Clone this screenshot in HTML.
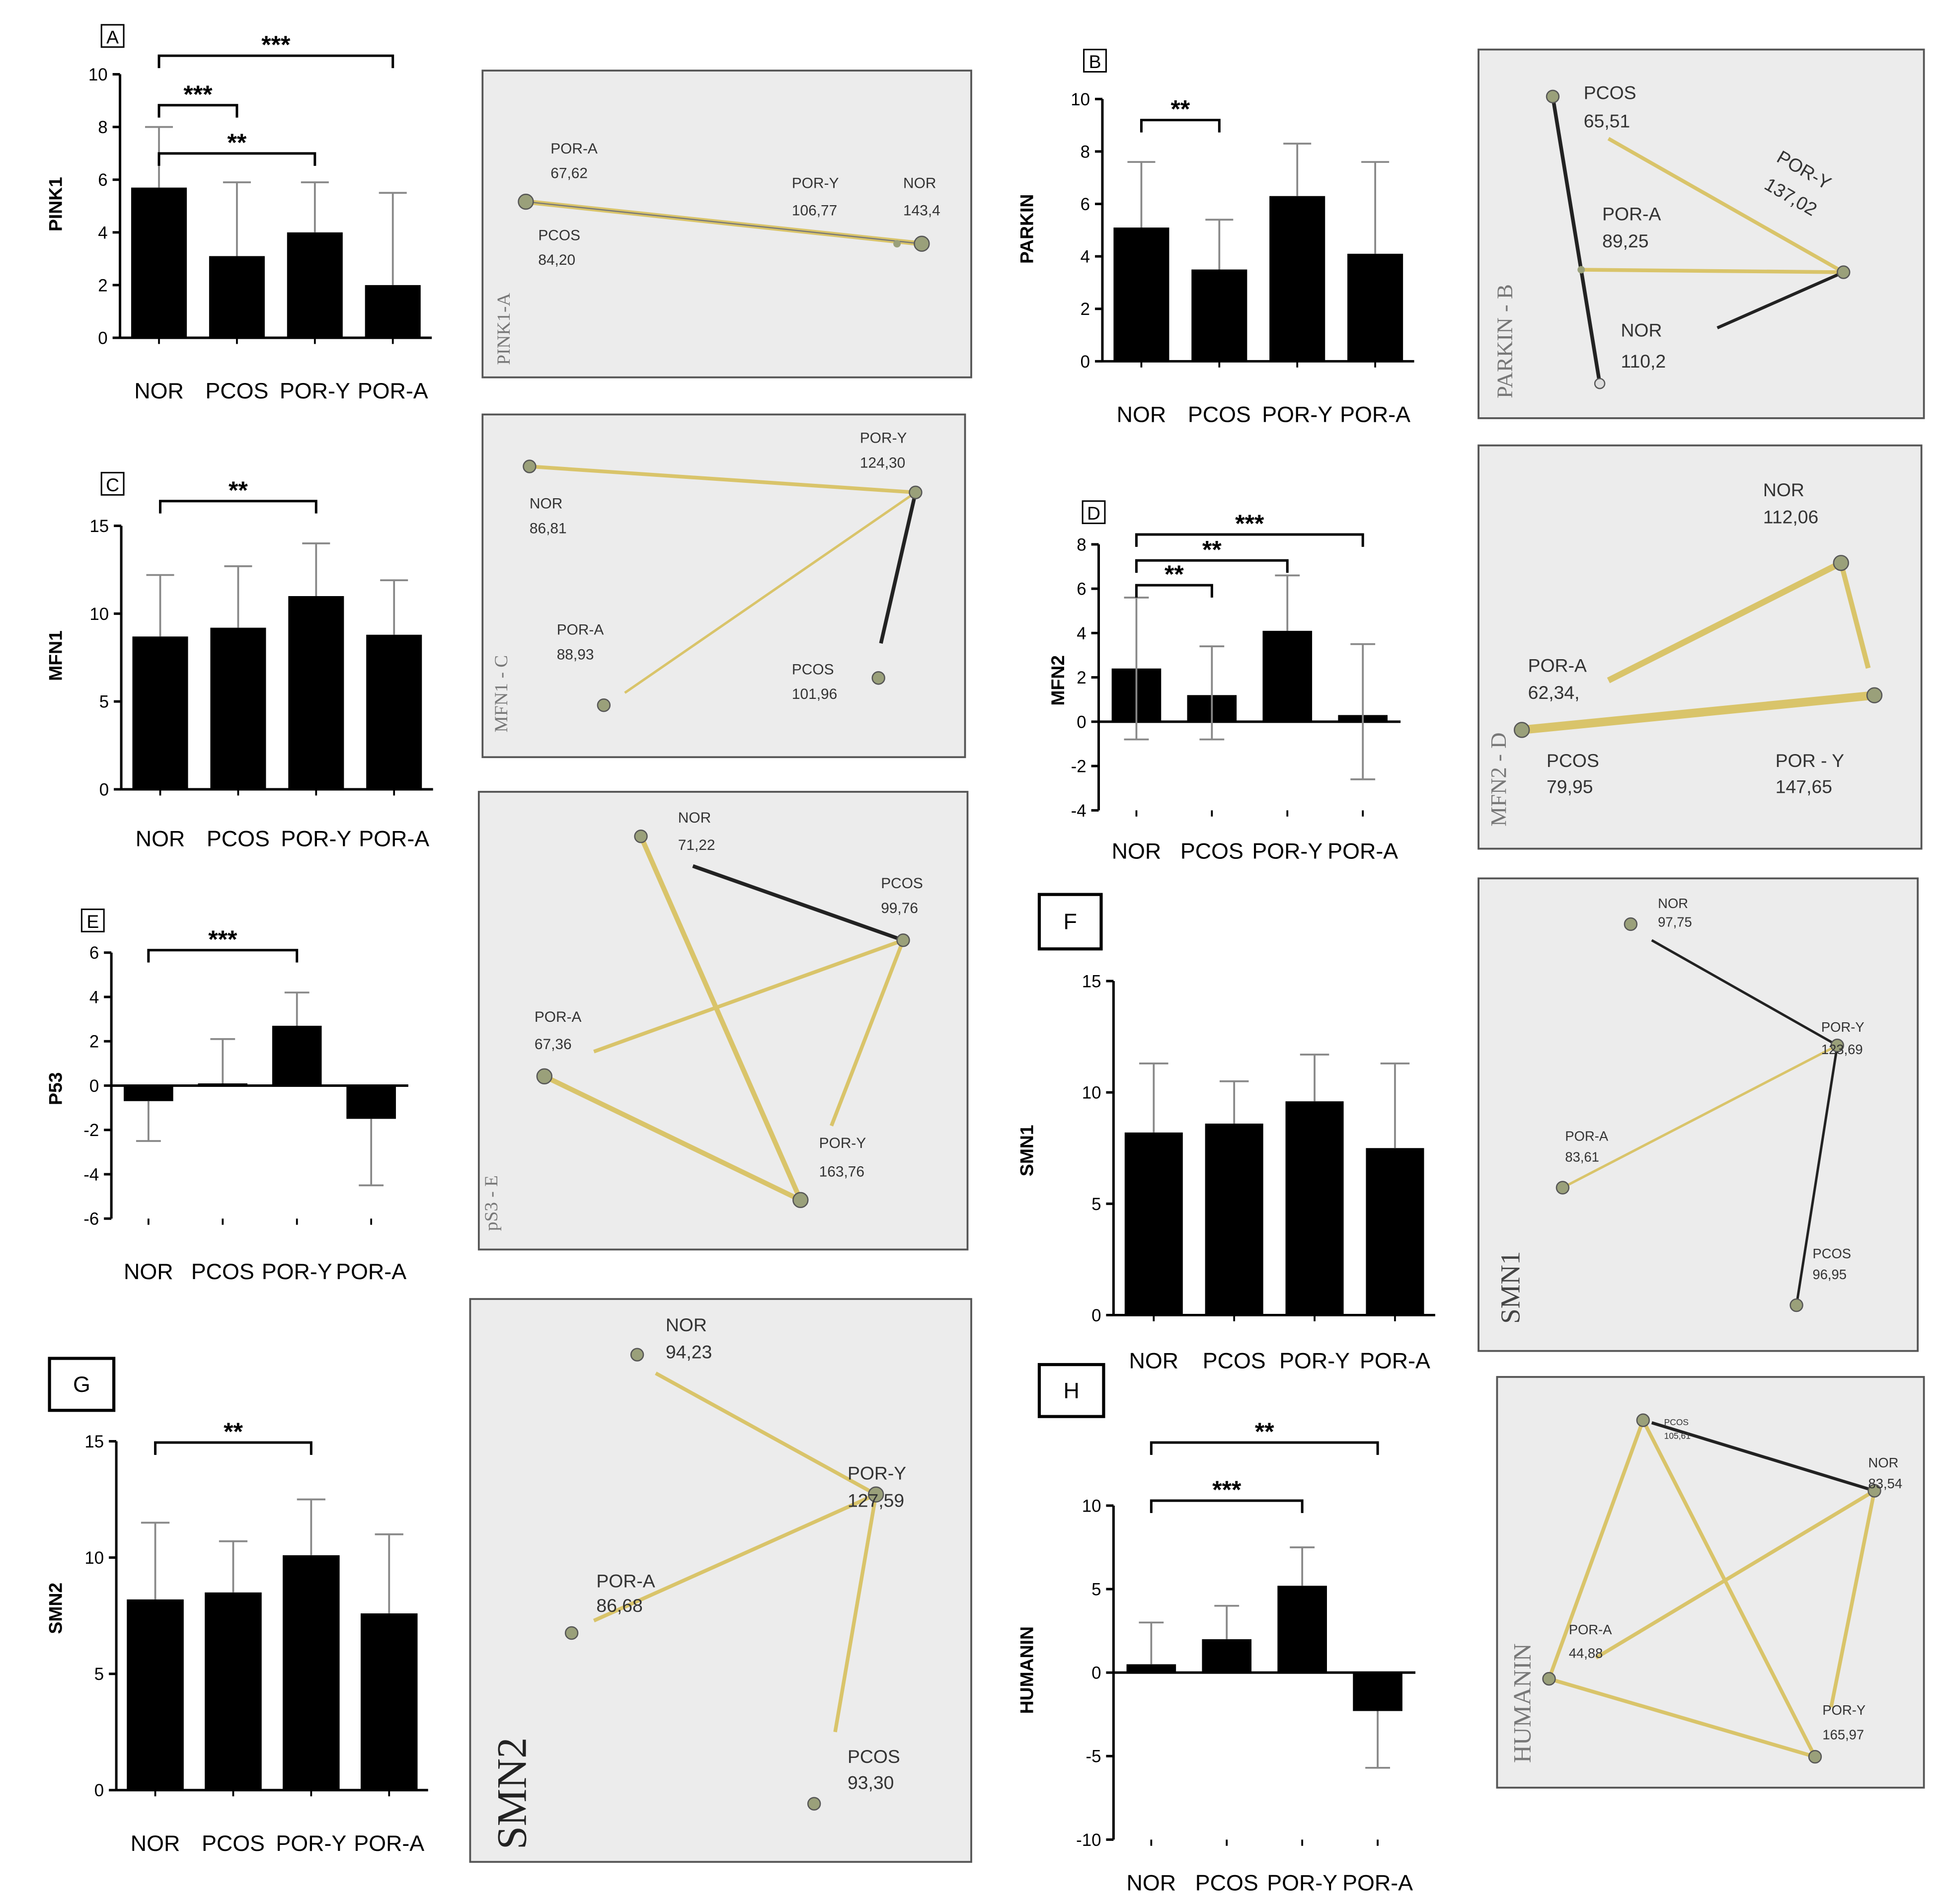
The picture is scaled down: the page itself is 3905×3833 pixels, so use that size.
<!DOCTYPE html>
<html><head><meta charset="utf-8"><style>
html,body{margin:0;padding:0;background:#fff}
svg{display:block}
text{font-family:"Liberation Sans",Arial,sans-serif}
</style></head><body>
<svg id="fig" width="3905" height="3833" viewBox="0 0 1568 1539" xmlns="http://www.w3.org/2000/svg">
<g id="nets">
<!-- Network A -->
<g>
<rect x="390" y="57" width="395" height="248" fill="#ececec" stroke="#555" stroke-width="1.5"/>
<line x1="425" y1="163" x2="745" y2="197" stroke="#d9c46a" stroke-width="4"/>
<line x1="425" y1="163" x2="745" y2="197" stroke="#777" stroke-width="1"/>
<circle cx="425" cy="163" r="6" fill="#9aa07a" stroke="#555"/><circle cx="745" cy="197" r="6" fill="#9aa07a" stroke="#555"/><circle cx="725" cy="197" r="3" fill="#9aa07a"/>
<g font-size="12" fill="#333"><text x="445" y="124">POR-A</text><text x="445" y="144">67,62</text><text x="435" y="194">PCOS</text><text x="435" y="214">84,20</text><text x="640" y="152">POR-Y</text><text x="640" y="174">106,77</text><text x="730" y="152">NOR</text><text x="730" y="174">143,4</text></g>
<text transform="translate(412,295) rotate(-90)" font-size="15" fill="#777" style="font-family:'Liberation Serif',serif">PINK1-A</text>
</g>
<!-- Network B -->
<g>
<rect x="1195" y="40" width="360" height="298" fill="#ececec" stroke="#555" stroke-width="1.5"/>
<line x1="1255" y1="78" x2="1293" y2="310" stroke="#222" stroke-width="3"/>
<line x1="1300" y1="112" x2="1490" y2="220" stroke="#d9c46a" stroke-width="3"/>
<line x1="1278" y1="218" x2="1490" y2="220" stroke="#d9c46a" stroke-width="3"/>
<line x1="1388" y1="265" x2="1490" y2="220" stroke="#222" stroke-width="2.5"/>
<circle cx="1255" cy="78" r="5" fill="#9aa07a" stroke="#555"/><circle cx="1490" cy="220" r="5" fill="#9aa07a" stroke="#555"/><circle cx="1278" cy="218" r="3" fill="#9aa07a"/><circle cx="1293" cy="310" r="4" fill="#ddd" stroke="#555"/>
<g font-size="15" fill="#333"><text x="1280" y="80">PCOS</text><text x="1280" y="103">65,51</text><text x="1295" y="178">POR-A</text><text x="1295" y="200">89,25</text><text x="1310" y="272">NOR</text><text x="1310" y="297">110,2</text></g>
<text transform="translate(1435,130) rotate(30)" font-size="15" fill="#333">POR-Y</text><text transform="translate(1425,152) rotate(30)" font-size="15" fill="#333">137,02</text>
<text transform="translate(1222,322) rotate(-90)" font-size="18" fill="#777" style="font-family:'Liberation Serif',serif">PARKIN - B</text>
</g>
<!-- Network C -->
<g>
<rect x="390" y="335" width="390" height="277" fill="#ececec" stroke="#555" stroke-width="1.5"/>
<line x1="428" y1="377" x2="740" y2="398" stroke="#d9c46a" stroke-width="3"/>
<line x1="505" y1="560" x2="740" y2="398" stroke="#d9c46a" stroke-width="2"/>
<line x1="740" y1="398" x2="712" y2="520" stroke="#222" stroke-width="3"/>
<circle cx="428" cy="377" r="5" fill="#9aa07a" stroke="#555"/><circle cx="740" cy="398" r="5" fill="#9aa07a" stroke="#555"/><circle cx="488" cy="570" r="5" fill="#9aa07a" stroke="#555"/><circle cx="710" cy="548" r="5" fill="#9aa07a" stroke="#555"/>
<g font-size="12" fill="#333"><text x="695" y="358">POR-Y</text><text x="695" y="378">124,30</text><text x="428" y="411">NOR</text><text x="428" y="431">86,81</text><text x="450" y="513">POR-A</text><text x="450" y="533">88,93</text><text x="640" y="545">PCOS</text><text x="640" y="565">101,96</text></g>
<text transform="translate(410,592) rotate(-90)" font-size="15" fill="#777" style="font-family:'Liberation Serif',serif">MFN1 - C</text>
</g>
<!-- Network D -->
<g>
<rect x="1195" y="360" width="358" height="326" fill="#ececec" stroke="#555" stroke-width="1.5"/>
<line x1="1300" y1="550" x2="1488" y2="455" stroke="#d9c46a" stroke-width="5"/>
<line x1="1488" y1="455" x2="1510" y2="540" stroke="#d9c46a" stroke-width="4"/>
<line x1="1230" y1="590" x2="1515" y2="562" stroke="#d9c46a" stroke-width="7"/>
<circle cx="1488" cy="455" r="6" fill="#9aa07a" stroke="#555"/><circle cx="1515" cy="562" r="6" fill="#9aa07a" stroke="#555"/><circle cx="1230" cy="590" r="6" fill="#9aa07a" stroke="#555"/>
<g font-size="15" fill="#333"><text x="1425" y="401">NOR</text><text x="1425" y="423">112,06</text><text x="1235" y="543">POR-A</text><text x="1235" y="565">62,34,</text><text x="1250" y="620">PCOS</text><text x="1250" y="641">79,95</text><text x="1435" y="620">POR - Y</text><text x="1435" y="641">147,65</text></g>
<text transform="translate(1217,668) rotate(-90)" font-size="18" fill="#777" style="font-family:'Liberation Serif',serif">MFN2 - D</text>
</g>
<!-- Network E -->
<g>
<rect x="387" y="640" width="395" height="370" fill="#ececec" stroke="#555" stroke-width="1.5"/>
<line x1="518" y1="676" x2="647" y2="970" stroke="#d9c46a" stroke-width="4"/>
<line x1="440" y1="870" x2="647" y2="970" stroke="#d9c46a" stroke-width="4"/>
<line x1="480" y1="850" x2="730" y2="760" stroke="#d9c46a" stroke-width="3"/>
<line x1="730" y1="760" x2="672" y2="910" stroke="#d9c46a" stroke-width="3"/>
<line x1="560" y1="700" x2="730" y2="760" stroke="#222" stroke-width="3"/>
<circle cx="518" cy="676" r="5" fill="#9aa07a" stroke="#555"/><circle cx="730" cy="760" r="5" fill="#9aa07a" stroke="#555"/><circle cx="440" cy="870" r="6" fill="#9aa07a" stroke="#555"/><circle cx="647" cy="970" r="6" fill="#9aa07a" stroke="#555"/>
<g font-size="12" fill="#333"><text x="548" y="665">NOR</text><text x="548" y="687">71,22</text><text x="712" y="718">PCOS</text><text x="712" y="738">99,76</text><text x="432" y="826">POR-A</text><text x="432" y="848">67,36</text><text x="662" y="928">POR-Y</text><text x="662" y="951">163,76</text></g>
<text transform="translate(402,995) rotate(-90)" font-size="15" fill="#777" style="font-family:'Liberation Serif',serif">pS3 - E</text>
</g>
<!-- Network F -->
<g>
<rect x="1195" y="710" width="355" height="382" fill="#ececec" stroke="#555" stroke-width="1.5"/>
<line x1="1335" y1="760" x2="1485" y2="845" stroke="#222" stroke-width="2"/>
<line x1="1263" y1="960" x2="1485" y2="845" stroke="#d9c46a" stroke-width="2"/>
<line x1="1485" y1="845" x2="1452" y2="1055" stroke="#222" stroke-width="2"/>
<circle cx="1318" cy="747" r="5" fill="#9aa07a" stroke="#555"/><circle cx="1485" cy="845" r="5" fill="#9aa07a" stroke="#555"/><circle cx="1263" cy="960" r="5" fill="#9aa07a" stroke="#555"/><circle cx="1452" cy="1055" r="5" fill="#9aa07a" stroke="#555"/>
<g font-size="11" fill="#333"><text x="1340" y="734">NOR</text><text x="1340" y="749">97,75</text><text x="1472" y="834">POR-Y</text><text x="1472" y="852">123,69</text><text x="1265" y="922">POR-A</text><text x="1265" y="939">83,61</text><text x="1465" y="1017">PCOS</text><text x="1465" y="1034">96,95</text></g>
<text transform="translate(1228,1070) rotate(-90)" font-size="22" fill="#444" style="font-family:'Liberation Serif',serif">SMN1</text>
</g>
<!-- Network G -->
<g>
<rect x="380" y="1050" width="405" height="455" fill="#ececec" stroke="#555" stroke-width="1.5"/>
<line x1="530" y1="1110" x2="708" y2="1208" stroke="#d9c46a" stroke-width="3"/>
<line x1="480" y1="1310" x2="708" y2="1208" stroke="#d9c46a" stroke-width="3"/>
<line x1="708" y1="1208" x2="675" y2="1400" stroke="#d9c46a" stroke-width="3"/>
<circle cx="515" cy="1095" r="5" fill="#9aa07a" stroke="#555"/><circle cx="708" cy="1208" r="6" fill="#9aa07a" stroke="#555"/><circle cx="462" cy="1320" r="5" fill="#9aa07a" stroke="#555"/><circle cx="658" cy="1458" r="5" fill="#9aa07a" stroke="#555"/>
<g font-size="15" fill="#333" style="font-family:'Liberation Serif',serif"><text x="538" y="1076">NOR</text><text x="538" y="1098">94,23</text><text x="685" y="1196">POR-Y</text><text x="685" y="1218">127,59</text><text x="482" y="1283">POR-A</text><text x="482" y="1303">86,68</text><text x="685" y="1425">PCOS</text><text x="685" y="1446">93,30</text></g>
<text transform="translate(425,1495) rotate(-90)" font-size="34" fill="#222" style="font-family:'Liberation Serif',serif">SMN2</text>
</g>
<!-- Network H -->
<g>
<rect x="1210" y="1113" width="345" height="332" fill="#ececec" stroke="#555" stroke-width="1.5"/>
<line x1="1328" y1="1148" x2="1252" y2="1357" stroke="#d9c46a" stroke-width="3"/>
<line x1="1328" y1="1148" x2="1467" y2="1420" stroke="#d9c46a" stroke-width="3"/>
<line x1="1252" y1="1357" x2="1467" y2="1420" stroke="#d9c46a" stroke-width="3"/>
<line x1="1290" y1="1340" x2="1515" y2="1205" stroke="#d9c46a" stroke-width="3"/>
<line x1="1515" y1="1205" x2="1480" y2="1380" stroke="#d9c46a" stroke-width="3"/>
<line x1="1515" y1="1205" x2="1467" y2="1420" stroke="#d9c46a" stroke-width="0"/>
<line x1="1335" y1="1150" x2="1515" y2="1205" stroke="#222" stroke-width="2.5"/>
<line x1="1515" y1="1205" x2="1467" y2="1420" stroke="#d9c46a" stroke-width="0"/>
<circle cx="1328" cy="1148" r="5" fill="#9aa07a" stroke="#555"/><circle cx="1515" cy="1205" r="5" fill="#9aa07a" stroke="#555"/><circle cx="1252" cy="1357" r="5" fill="#9aa07a" stroke="#555"/><circle cx="1467" cy="1420" r="5" fill="#9aa07a" stroke="#555"/>
<g font-size="11" fill="#333"><text x="1345" y="1152" font-size="7">PCOS</text><text x="1345" y="1163" font-size="7">105,61</text><text x="1510" y="1186">NOR</text><text x="1510" y="1203">83,54</text><text x="1268" y="1321">POR-A</text><text x="1268" y="1340">44,88</text><text x="1473" y="1386">POR-Y</text><text x="1473" y="1406">165,97</text></g>
<text transform="translate(1237,1425) rotate(-90)" font-size="20" fill="#777" style="font-family:'Liberation Serif',serif">HUMANIN</text>
</g>
</g>
<g id="bars"></g>
</svg>
<script>
const categories = ["NOR","PCOS","POR-Y","POR-A"];
const pink1Values = [5.7, 3.1, 4.0, 2.0];
const pink1Errors = [8.0, 5.9, 5.9, 5.5];
const pink1Ticks = [0,2,4,6,8,10];
const parkinValues = [5.1, 3.5, 6.3, 4.1];
const parkinErrors = [7.6, 5.4, 8.3, 7.6];
const parkinTicks = [0,2,4,6,8,10];
const mfn1Values = [8.7, 9.2, 11.0, 8.8];
const mfn1Errors = [12.2, 12.7, 14.0, 11.9];
const mfn1Ticks = [0,5,10,15];
const mfn2Values = [2.4, 1.2, 4.1, 0.3];
const mfn2ErrorsHi = [5.6, 3.4, 6.6, 3.5];
const mfn2ErrorsLo = [-0.8, -0.8, 4.1, -2.6];
const mfn2Ticks = [-4,-2,0,2,4,6,8];
const p53Values = [-0.7, 0.1, 2.7, -1.5];
const p53Errors = [-2.5, 2.1, 4.2, -4.5];
const p53Ticks = [-6,-4,-2,0,2,4,6];
const smn1Values = [8.2, 8.6, 9.6, 7.5];
const smn1Errors = [11.3, 10.5, 11.7, 11.3];
const smn1Ticks = [0,5,10,15];
const smn2Values = [8.2, 8.5, 10.1, 7.6];
const smn2Errors = [11.5, 10.7, 12.5, 11.0];
const smn2Ticks = [0,5,10,15];
const humaninValues = [0.5, 2.0, 5.2, -2.3];
const humaninErrors = [3.0, 4.0, 7.5, -5.7];
const humaninTicks = [-10,-5,0,5,10];

const NS = "http://www.w3.org/2000/svg";
const root = document.getElementById("bars");
function mk(tag, attrs, parent){const e=document.createElementNS(NS,tag);for(const k in attrs)e.setAttribute(k,attrs[k]);(parent||root).appendChild(e);return e;}

function chart(c){
  const g = mk("g",{});
  
  
  const min=c.ticks[0], max=c.ticks[c.ticks.length-1];
  const y = v => c.yBot - (v-min)/(max-min)*(c.yBot-c.yTop);
  const x = i => c.x0 + c.step*(i+0.5);
  const xEnd = c.x0 + c.step*categories.length;
  // axis
  mk("line",{x1:c.x0,y1:c.yTop,x2:c.x0,y2:c.yBot,stroke:"#000","stroke-width":2},g);
  c.ticks.forEach(t=>{
    mk("line",{x1:c.x0-6,y1:y(t),x2:c.x0,y2:y(t),stroke:"#000","stroke-width":2},g);
    const tx=mk("text",{x:c.x0-10,y:y(t)+5,"font-size":14,"text-anchor":"end"},g);tx.textContent=t;
  });
  mk("line",{x1:c.x0,y1:y(0),x2:xEnd,y2:y(0),stroke:"#000","stroke-width":2},g);
  categories.forEach((cat,i)=>{
    const v=c.values[i], top=Math.min(y(v),y(0)), h=Math.abs(y(v)-y(0));
    const b=mk("rect",{x:x(i)-c.bw/2,y:top,width:c.bw,height:h,fill:"#000"},g);
    
    
    const ends=[c.errs[i]]; if(c.errsLo) ends.push(c.errsLo[i]);
    ends.forEach(e=>{ if(e===v) return;
      mk("line",{x1:x(i),y1:y(v),x2:x(i),y2:y(e),stroke:"#888","stroke-width":1.5},g);
      mk("line",{x1:x(i)-c.bw/4,y1:y(e),x2:x(i)+c.bw/4,y2:y(e),stroke:"#888","stroke-width":1.5},g);
    });
    mk("line",{x1:x(i),y1:c.yBot,x2:x(i),y2:c.yBot+5,stroke:"#000","stroke-width":1.5},g);
    const lt=mk("text",{x:x(i),y:c.labY,"font-size":18,"text-anchor":"middle"},g);lt.textContent=cat;
    
    
  });
  const yl=mk("text",{transform:`translate(${c.ylx},${c.yly}) rotate(-90)`,"font-size":15,"font-weight":"bold","text-anchor":"middle"},g);yl.textContent=c.ylabel;
  
  
  const lb=mk("rect",{x:c.lx,y:c.ly,width:c.lw,height:c.lh,fill:"#fff",stroke:"#000","stroke-width":c.lh>30?2.5:1.2},g);
  const lt2=mk("text",{x:c.lx+c.lw/2,y:c.ly+c.lh/2+6,"font-size":c.lh>30?18:15,"text-anchor":"middle","font-family":"Liberation Serif"},g);lt2.textContent=c.letter;
  (c.sig||[]).forEach(s=>{
    const x1=x(s[0]), x2=x(s[1]);
    mk("path",{d:`M${x1},${s[2]+10} V${s[2]} H${x2} V${s[2]+10}`,fill:"none",stroke:"#000","stroke-width":2},g);
    const st=mk("text",{x:(x1+x2)/2,y:s[2]-2,"font-size":20,"font-weight":"bold","text-anchor":"middle"},g);st.textContent=s[3];
  });
}
chart({name:"chart-pink1",x0:97,step:63,bw:45,yTop:60,yBot:273,ticks:pink1Ticks,values:pink1Values,errs:pink1Errors,labY:322,ylabel:"PINK1",ylx:50,yly:165,letter:"A",lx:82,ly:20,lw:18,lh:18,sig:[[0,3,45,"***"],[0,1,85,"***"],[0,2,124,"**"]]});
chart({name:"chart-parkin",x0:891,step:63,bw:45,yTop:80,yBot:292,ticks:parkinTicks,values:parkinValues,errs:parkinErrors,labY:341,ylabel:"PARKIN",ylx:835,yly:185,letter:"B",lx:876,ly:40,lw:18,lh:18,sig:[[0,1,97,"**"]]});
chart({name:"chart-mfn1",x0:98,step:63,bw:45,yTop:425,yBot:638,ticks:mfn1Ticks,values:mfn1Values,errs:mfn1Errors,labY:684,ylabel:"MFN1",ylx:50,yly:530,letter:"C",lx:82,ly:382,lw:18,lh:18,sig:[[0,2,405,"**"]]});
chart({name:"chart-mfn2",x0:888,step:61,bw:40,yTop:440,yBot:655,ticks:mfn2Ticks,values:mfn2Values,errs:mfn2ErrorsHi,errsLo:mfn2ErrorsLo,labY:694,ylabel:"MFN2",ylx:860,yly:550,letter:"D",lx:875,ly:405,lw:18,lh:18,sig:[[0,3,432,"***"],[0,2,453,"**"],[0,1,473,"**"]]});
chart({name:"chart-p53",x0:90,step:60,bw:40,yTop:770,yBot:985,ticks:p53Ticks,values:p53Values,errs:p53Errors,labY:1034,ylabel:"P53",ylx:50,yly:880,letter:"E",lx:66,ly:735,lw:18,lh:18,sig:[[0,2,768,"***"]]});
chart({name:"chart-smn1",x0:900,step:65,bw:47,yTop:793,yBot:1063,ticks:smn1Ticks,values:smn1Values,errs:smn1Errors,labY:1106,ylabel:"SMN1",ylx:835,yly:930,letter:"F",lx:840,ly:723,lw:50,lh:44,sig:[]});
chart({name:"chart-smn2",x0:94,step:63,bw:46,yTop:1165,yBot:1447,ticks:smn2Ticks,values:smn2Values,errs:smn2Errors,labY:1496,ylabel:"SMN2",ylx:50,yly:1300,letter:"G",lx:40,ly:1098,lw:52,lh:42,sig:[[0,2,1166,"**"]]});
chart({name:"chart-humanin",x0:900,step:61,bw:40,yTop:1217,yBot:1487,ticks:humaninTicks,values:humaninValues,errs:humaninErrors,labY:1528,ylabel:"HUMANIN",ylx:835,yly:1350,letter:"H",lx:840,ly:1103,lw:52,lh:42,sig:[[0,3,1166,"**"],[0,2,1213,"***"]]});
</script>
</body></html>
